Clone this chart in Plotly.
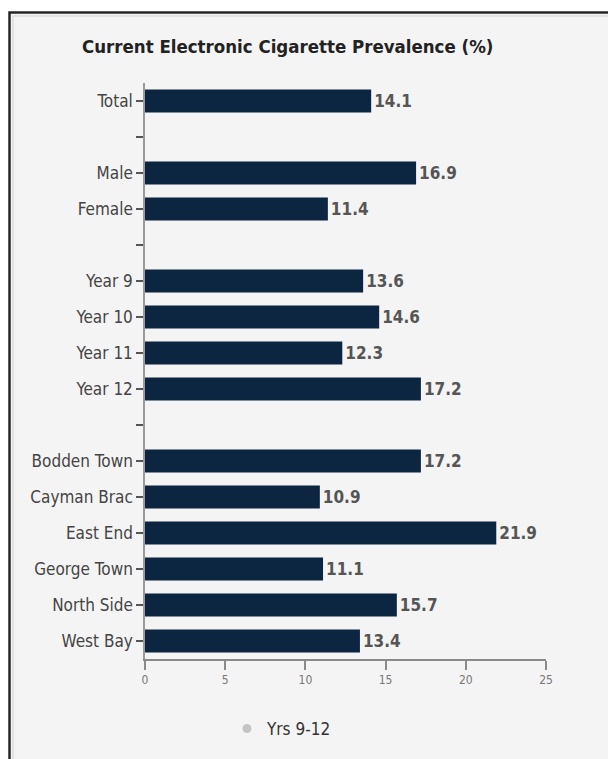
import plotly.graph_objects as go

# Survey groups; blank labels separate the Total / sex / year / district blocks
categories = [
    "Total", " ",
    "Male", "Female", "  ",
    "Year 9", "Year 10", "Year 11", "Year 12", "   ",
    "Bodden Town", "Cayman Brac", "East End", "George Town", "North Side", "West Bay",
]
prevalence = [
    14.1, None,
    16.9, 11.4, None,
    13.6, 14.6, 12.3, 17.2, None,
    17.2, 10.9, 21.9, 11.1, 15.7, 13.4,
]
x_ticks = [0, 5, 10, 15, 20, 25]
series_name = "Yrs 9-12"
title_text = "Current Electronic Cigarette Prevalence (%)"

FONT = "DejaVu Sans Condensed, Liberation Sans Narrow, Roboto, sans-serif"
BAR = "#0c2541"

W, H = 608, 759
ML, MR, MT, MB = 145, 62, 83, 100
PW, PH = W - ML - MR, H - MT - MB


def px_x(p):
    return (p - ML) / PW


def px_y(p):
    return (H - MB - p) / PH


fig = go.Figure()
fig.add_trace(go.Bar(
    x=prevalence,
    y=categories,
    orientation="h",
    marker=dict(color=BAR, line=dict(width=0)),
    width=0.64,
    text=[("" if v is None else f"{v:.1f}") for v in prevalence],
    textposition="outside",
    cliponaxis=False,
    textfont=dict(family=FONT, size=17, color="#555555", weight="bold"),
    showlegend=False,
    hoverinfo="x+y",
))
# legend entry for the series
fig.add_trace(go.Scatter(
    x=[None], y=[None], mode="markers",
    marker=dict(symbol="circle", size=9, color="#c4c4c4"),
    name=series_name, showlegend=True,
))

# framed panel
fig.add_shape(type="rect", xref="paper", yref="paper", layer="below",
              x0=px_x(9.5), x1=px_x(640), y0=px_y(12.5), y1=px_y(790),
              fillcolor="#f4f4f4", line=dict(color="#262626", width=2.5))
fig.add_shape(type="rect", xref="paper", yref="paper", layer="below",
              x0=px_x(13), x1=px_x(640), y0=px_y(16), y1=px_y(790),
              fillcolor="rgba(0,0,0,0)", line=dict(color="#dcdcdc", width=1.5))

fig.update_layout(
    width=W, height=H,
    margin=dict(l=ML, r=MR, t=MT, b=MB, pad=0),
    paper_bgcolor="#ffffff",
    plot_bgcolor="rgba(0,0,0,0)",
    font=dict(family=FONT, color="#444444"),
    title=dict(text=title_text, x=82 / W, xanchor="left",
               y=1 - 47 / H, yanchor="middle",
               font=dict(family=FONT, size=18.5, color="#222222", weight="bold")),
    legend=dict(orientation="h", x=px_x(282), xanchor="center",
                y=px_y(729), yanchor="middle",
                font=dict(family=FONT, size=17, color="#333333"),
                bgcolor="rgba(0,0,0,0)", itemwidth=30),
    xaxis=dict(range=[0, 25], tickvals=x_ticks, showgrid=False, zeroline=False,
               showline=True, linecolor="#8a8a8a", linewidth=1.5,
               ticks="outside", ticklen=9, tickwidth=1.5, tickcolor="#8a8a8a",
               tickfont=dict(family=FONT, size=12, color="#777777"),
               fixedrange=True),
    yaxis=dict(categoryorder="array", categoryarray=categories,
               autorange="reversed", showgrid=False, zeroline=False,
               showline=True, linecolor="#9a9a9a", linewidth=1.5,
               ticks="outside", ticklen=7, tickwidth=1.5, tickcolor="#555555",
               tickfont=dict(family=FONT, size=17, color="#444444"),
               fixedrange=True),
)

fig.write_html("out.html")
